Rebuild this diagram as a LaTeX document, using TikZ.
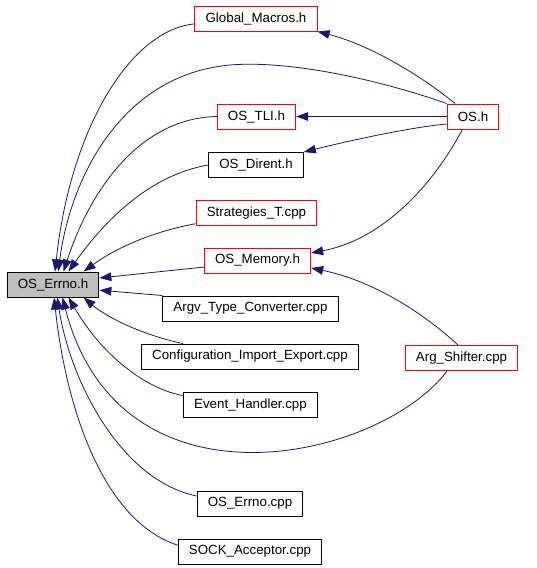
\documentclass[tikz,border=0pt]{standalone}
\usepackage{fontspec}
\setmainfont{Liberation Sans}
\usetikzlibrary{arrows.meta}
\definecolor{midblue}{HTML}{191970}
\definecolor{boxgray}{HTML}{BFBFBF}

\begin{document}
\begin{tikzpicture}[x=0.75pt,y=-0.75pt,
		file/.style={draw=black,line width=0.75pt,minimum height=18.75pt,inner xsep=8pt,font=\fontsize{10}{12}\selectfont},
		redfile/.style={file,draw=red},
		dep/.style={draw=midblue,line width=0.6pt,-{Triangle[length=9pt,width=6.5pt]}}]
				\useasboundingbox (0,0) rectangle (536,568);
				% files
				\node[file,fill=boxgray] (errno) at (53,284.5) {OS\_Errno.h};
				\node[redfile] (gm) at (256,18.5) {Global\_Macros.h};
				\node[redfile] (tli) at (256.5,116.5) {OS\_TLI.h};
				\node[file] (dirent) at (256,165) {OS\_Dirent.h};
				\node[redfile] (strat) at (256.5,213) {Strategies\_T.cpp};
				\node[redfile] (memory) at (257.5,260.5) {OS\_Memory.h};
				\node[file] (argv) at (250.5,308.5) {Argv\_Type\_Converter.cpp};
				\node[file] (config) at (250,356.5) {Configuration\_Import\_Export.cpp};
				\node[file] (event) at (250.5,405) {Event\_Handler.cpp};
				\node[file] (errnocpp) at (250,503.5) {OS\_Errno.cpp};
				\node[file] (sock) at (250,551.5) {SOCK\_Acceptor.cpp};
				\node[redfile] (os) at (473,116.5) {OS.h};
				\node[redfile] (argsh) at (461.5,358) {Arg\_Shifter.cpp};
				% into OS_Errno.h
				\draw[dep] (gm.185) .. controls (130,30) and (70,130) .. (errno.81);
				\draw[dep] (os.north west) .. controls (380,80) and (290,60) .. (230,65)
					.. controls (120,75) and (70,180) .. (errno.68);
				\draw[dep] (tli.west) .. controls (140,118) and (90,190) .. (errno.51);
				\draw[dep] (dirent.west) .. controls (150,175) and (105,220) .. (errno.40);
				\draw[dep] (strat.190) .. controls (160,230) and (120,245) .. (errno.23);
				\draw[dep] (memory.187) -- (errno.8);
				\draw[dep] (argv.north west) -- (errno.-7);
				\draw[dep] (config.169) .. controls (150,337) and (110,320) .. (errno.-23);
				\draw[dep] (event.172) .. controls (150,390) and (105,360) .. (errno.-40);
				\draw[dep] (argsh.222) .. controls (380,460) and (120,520) .. (errno.-54);
				\draw[dep] (errnocpp.172) .. controls (120,480) and (70,380) .. (errno.-72);
				\draw[dep] (sock.175) .. controls (100,520) and (65,400) .. (errno.-85);
				% out of OS.h and Arg_Shifter.cpp
				\draw[dep] (os.144) .. controls (420,75) and (370,45) .. (gm.south east);
				\draw[dep] (os.west) -- (tli.east);
				\draw[dep] (os.196) .. controls (420,126) and (360,138) .. (dirent.north east);
				\draw[dep] (os.231) .. controls (430,190) and (380,240) .. (memory.8);
				\draw[dep] (argsh.105) .. controls (420,310) and (370,280) .. (memory.-8);
			\end{tikzpicture}
\end{document}
